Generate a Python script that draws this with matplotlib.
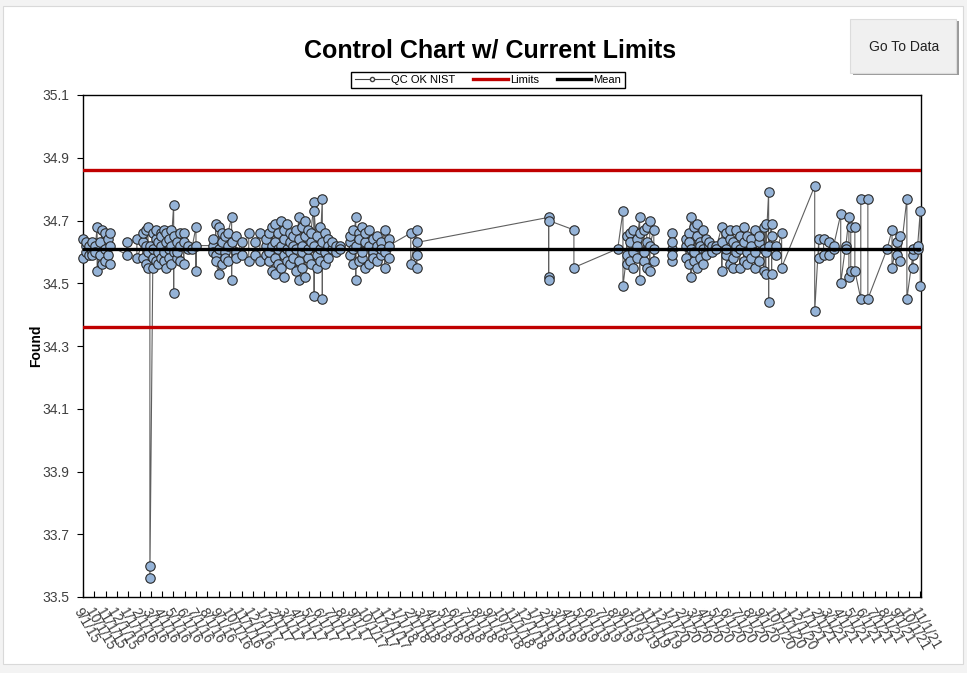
import matplotlib
matplotlib.use("Agg")
import matplotlib.pyplot as plt
from matplotlib.lines import Line2D
from matplotlib.patches import Rectangle
import pandas as pd

# QC runs: one date, one or more "Found" results per date (in run order)
run_dates = [
    "2015-09-01", "2015-09-09", "2015-09-17", "2015-09-25", "2015-10-03",
    "2015-10-09", "2015-10-17", "2015-10-22", "2015-10-30", "2015-11-07",
    "2015-11-13", "2015-12-28", "2016-01-24", "2016-02-09", "2016-02-17",
    "2016-02-23", "2016-02-28", "2016-03-07", "2016-03-15", "2016-03-21",
    "2016-03-29", "2016-04-06", "2016-04-11", "2016-04-19", "2016-04-25",
    "2016-05-02", "2016-05-10", "2016-05-19", "2016-05-29", "2016-06-09",
    "2016-06-20", "2016-07-01", "2016-08-15", "2016-08-23", "2016-08-31",
    "2016-09-08", "2016-09-17", "2016-09-25", "2016-10-05", "2016-10-16",
    "2016-11-01", "2016-11-20", "2016-12-07", "2016-12-20", "2017-01-06",
    "2017-01-13", "2017-01-21", "2017-01-29", "2017-02-06", "2017-02-14",
    "2017-02-22", "2017-03-02", "2017-03-11", "2017-03-19", "2017-03-27",
    "2017-04-04", "2017-04-12", "2017-04-20", "2017-04-28", "2017-05-06",
    "2017-05-15", "2017-05-23", "2017-05-31", "2017-06-06", "2017-06-13",
    "2017-06-21", "2017-07-02", "2017-07-13", "2017-07-23", "2017-08-19",
    "2017-08-27", "2017-09-04", "2017-09-12", "2017-09-20", "2017-09-29",
    "2017-10-09", "2017-10-20", "2017-10-31", "2017-11-10", "2017-11-21",
    "2017-12-02", "2018-01-30", "2018-02-15", "2019-02-05", "2019-04-14",
    "2019-08-10", "2019-08-24", "2019-09-03", "2019-09-11", "2019-09-20",
    "2019-09-30", "2019-10-08", "2019-10-19", "2019-10-27", "2019-11-04",
    "2019-11-15", "2020-01-02", "2020-02-09", "2020-02-17", "2020-02-23",
    "2020-03-02", "2020-03-10", "2020-03-18", "2020-03-26", "2020-04-03",
    "2020-04-11", "2020-04-19", "2020-04-30", "2020-05-16", "2020-05-27",
    "2020-06-06", "2020-06-15", "2020-06-23", "2020-07-03", "2020-07-14",
    "2020-07-22", "2020-08-02", "2020-08-13", "2020-08-23", "2020-09-06",
    "2020-09-11", "2020-09-19", "2020-09-27", "2020-10-08", "2020-10-24",
    "2021-01-21", "2021-02-01", "2021-02-14", "2021-02-28", "2021-03-13",
    "2021-04-01", "2021-04-14", "2021-04-23", "2021-04-28", "2021-05-09",
    "2021-05-25", "2021-06-13", "2021-08-04", "2021-08-17", "2021-08-30",
    "2021-09-07", "2021-09-26", "2021-10-12", "2021-10-25", "2021-11-01",
]
run_values = [
    [34.64, 34.58], [34.62, 34.60, 34.63], [34.59, 34.62], [34.60, 34.63, 34.59], [34.62, 34.60],
    [34.68, 34.54], [34.63, 34.59], [34.67, 34.56], [34.66, 34.57, 34.61], [34.64, 34.59],
    [34.66, 34.56, 34.62], [34.59, 34.63], [34.64, 34.58], [34.63, 34.58, 34.66], [34.67, 34.56, 34.62],
    [34.68, 34.60, 34.55], [34.62, 33.60, 33.56], [34.58, 34.66, 34.61, 34.55], [34.64, 34.57, 34.67], [34.60, 34.63, 34.56],
    [34.66, 34.58, 34.62, 34.65], [34.57, 34.67, 34.60], [34.63, 34.55, 34.66], [34.61, 34.64, 34.58], [34.67, 34.56, 34.62],
    [34.75, 34.47, 34.60, 34.65], [34.58, 34.63, 34.60], [34.66, 34.57, 34.62], [34.66, 34.56, 34.63], [34.61, 34.62],
    [34.61], [34.68, 34.54, 34.62], [34.62, 34.60, 34.64], [34.59, 34.69, 34.57], [34.53, 34.68, 34.61],
    [34.66, 34.56, 34.63], [34.60, 34.65, 34.58], [34.62, 34.57, 34.66], [34.71, 34.51, 34.63], [34.60, 34.65, 34.58],
    [34.63, 34.59], [34.66, 34.57], [34.59, 34.63], [34.66, 34.57], [34.62, 34.59, 34.64],
    [34.57, 34.66, 34.60], [34.68, 34.54, 34.62], [34.69, 34.53, 34.63, 34.58], [34.61, 34.66, 34.56], [34.70, 34.55, 34.62],
    [34.64, 34.52, 34.67, 34.59], [34.69, 34.57, 34.61], [34.63, 34.56, 34.66, 34.60], [34.58, 34.65, 34.62], [34.67, 34.54, 34.61],
    [34.71, 34.51, 34.64, 34.57], [34.60, 34.68, 34.55, 34.62], [34.70, 34.52, 34.65], [34.58, 34.67, 34.61], [34.63, 34.56, 34.66],
    [34.76, 34.46, 34.62, 34.73], [34.59, 34.65, 34.55], [34.68, 34.57, 34.61], [34.77, 34.45, 34.63], [34.66, 34.56, 34.60],
    [34.64, 34.58, 34.62], [34.61, 34.63], [34.60, 34.62], [34.62, 34.61], [34.63, 34.59, 34.65],
    [34.56, 34.67, 34.61], [34.71, 34.51, 34.62], [34.66, 34.57, 34.64], [34.58, 34.68, 34.60], [34.63, 34.55, 34.66],
    [34.67, 34.56, 34.62], [34.60, 34.64, 34.58], [34.65, 34.57, 34.62], [34.59, 34.63, 34.61], [34.67, 34.55, 34.60],
    [34.64, 34.58, 34.62], [34.66, 34.56], [34.67, 34.55, 34.59, 34.63], [34.71, 34.52, 34.51, 34.70], [34.67, 34.55],
    [34.61], [34.73, 34.49], [34.59, 34.65, 34.56], [34.66, 34.57, 34.63], [34.60, 34.67, 34.55],
    [34.64, 34.58, 34.62], [34.71, 34.51, 34.66], [34.57, 34.67, 34.60], [34.63, 34.55, 34.68], [34.70, 34.54, 34.62],
    [34.67, 34.57, 34.61], [34.61, 34.66, 34.57, 34.63, 34.59], [34.62, 34.64, 34.58], [34.66, 34.56, 34.63], [34.71, 34.52, 34.61],
    [34.57, 34.68, 34.60], [34.65, 34.55, 34.69], [34.63, 34.58, 34.62], [34.67, 34.56, 34.61], [34.60, 34.64, 34.59],
    [34.62, 34.63], [34.61, 34.62, 34.60], [34.62, 34.61], [34.68, 34.54, 34.63], [34.59, 34.66, 34.61],
    [34.64, 34.56, 34.67], [34.58, 34.63, 34.55], [34.67, 34.60, 34.62], [34.65, 34.55, 34.61], [34.68, 34.57, 34.63],
    [34.60, 34.65, 34.56], [34.64, 34.58, 34.62], [34.67, 34.55, 34.60], [34.63, 34.57, 34.65], [34.68, 34.54, 34.61],
    [34.69, 34.53, 34.60], [34.79, 34.44, 34.62], [34.69, 34.53, 34.65], [34.62, 34.59], [34.66, 34.55],
    [34.81, 34.41], [34.64, 34.58], [34.59, 34.64], [34.63, 34.59], [34.61, 34.62],
    [34.72, 34.50], [34.62, 34.61], [34.71, 34.52], [34.54, 34.68], [34.68, 34.54],
    [34.45, 34.77], [34.77, 34.45], [34.61], [34.67, 34.55], [34.63, 34.59],
    [34.65, 34.57], [34.77, 34.45], [34.59, 34.55, 34.61], [34.61, 34.62], [34.73, 34.49],
]

mean_value = 34.61
upper_limit = 34.86
lower_limit = 34.36
axis_start = "2015-09-01"
axis_end = "2021-11-03"
y_ticks = [33.5, 33.7, 33.9, 34.1, 34.3, 34.5, 34.7, 34.9, 35.1]

run_x = [pd.Timestamp(d) for d, vals in zip(run_dates, run_values) for _ in vals]
run_y = [v for vals in run_values for v in vals]
tick_dates = pd.date_range(axis_start, axis_end, freq="MS")
tick_labels = [f"{d.month}/{d.day}/{d:%y}" for d in tick_dates]

plt.rcParams["font.family"] = ["Liberation Sans", "DejaVu Sans"]

fig = plt.figure(figsize=(9.67, 6.73), dpi=100, facecolor="#f3f3f3")
# white chart area inside a thin grey frame (behind everything)
fig.patches.append(Rectangle((3 / 967, 1 - 664 / 673), 960 / 967, 658 / 673,
                             transform=fig.transFigure, facecolor="white",
                             edgecolor="#d9d9d9", lw=0.8, zorder=-5))

ax = fig.add_axes([83 / 967, 1 - 597 / 673, 838 / 967, 502 / 673])
ax.set_facecolor("white")

ax.plot(run_x, run_y, color="#5f5f5f", lw=0.8, marker="o", ms=6.8,
        mfc="#95b3d7", mec="#2a2a2a", mew=0.8, zorder=3, clip_on=False)
ax.axhline(upper_limit, color="#c00000", lw=2.4, zorder=4)
ax.axhline(lower_limit, color="#c00000", lw=2.4, zorder=4)
ax.axhline(mean_value, color="black", lw=2.4, zorder=4)

ax.set_xlim(pd.Timestamp(axis_start), pd.Timestamp(axis_end))
ax.set_ylim(y_ticks[0], y_ticks[-1])
ax.set_yticks(y_ticks)
ax.set_yticklabels([f"{t:.1f}" for t in y_ticks])
ax.set_xticks(tick_dates)
ax.set_xticklabels(tick_labels, rotation=-60, ha="left", va="top",
                   rotation_mode="anchor", fontsize=10, color="#404040")
ax.tick_params(axis="y", direction="out", length=4, width=0.8, pad=6,
               labelsize=10, labelcolor="#404040")
ax.tick_params(axis="x", direction="in", length=4, width=0.8, pad=6)
for s in ax.spines.values():
    s.set_linewidth(1.0)
    s.set_color("black")
ax.set_ylabel("Found", fontsize=10, fontweight="bold", labelpad=-1)

fig.text(490 / 967, 1 - 50 / 673, "Control Chart w/ Current Limits",
         ha="center", va="center", fontsize=18, fontweight="bold")

handles = [
    Line2D([], [], color="#404040", lw=0.8, marker="o", ms=3, mfc="white", mec="#404040"),
    Line2D([], [], color="#c00000", lw=2.4),
    Line2D([], [], color="black", lw=2.4),
]
fig.legend(handles, ["QC OK NIST", "Limits", "Mean"], loc="center",
           bbox_to_anchor=(488 / 967, 1 - 80 / 673), ncol=3, fontsize=8,
           frameon=True, fancybox=False, edgecolor="black", framealpha=1,
           borderpad=0.3, handlelength=3.1, handletextpad=0.2, columnspacing=1.6)

# "Go To Data" button
fig.patches.append(Rectangle((853 / 967, 1 - 75 / 673), 106 / 967, 54 / 673,
                             transform=fig.transFigure, facecolor="#9a9a9a", edgecolor="none"))
fig.patches.append(Rectangle((850 / 967, 1 - 73 / 673), 106 / 967, 54 / 673,
                             transform=fig.transFigure, facecolor="#f0f0f0", edgecolor="#dcdcdc", lw=0.8))
fig.text(904 / 967, 1 - 47 / 673, "Go To Data", ha="center", va="center", fontsize=10, color="#222222")

fig.savefig("out.png", dpi=100, facecolor=fig.get_facecolor())
